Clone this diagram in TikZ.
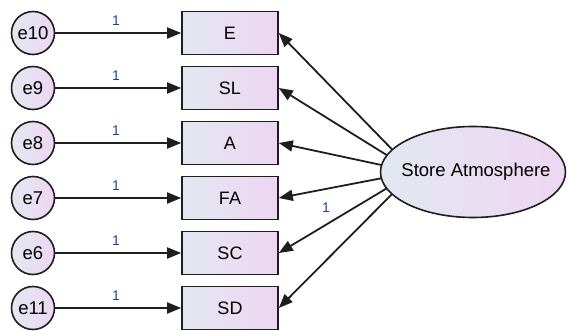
\documentclass[tikz,border=0pt]{standalone}
\usepackage{fontspec}
\setmainfont{Liberation Sans}
\usetikzlibrary{arrows.meta}
\definecolor{shadeL}{RGB}{226,232,240}
\definecolor{shadeR}{RGB}{238,214,243}
\definecolor{edge}{RGB}{30,30,30}
\definecolor{weight}{RGB}{25,70,150}
\tikzset{
  obsbox/.style={draw=edge, line width=1.6pt, minimum width=96pt, minimum height=43pt,
    left color=shadeL, right color=shadeR, inner sep=0pt, font=\fontsize{18}{18}\selectfont},
  errcirc/.style={circle, draw=edge, line width=1.6pt, minimum size=43pt, inner sep=0pt,
    left color=shadeL, right color=shadeR, font=\fontsize{18.5}{18.5}\selectfont},
  latentfill/.style={draw=edge, line width=1.6pt, left color=shadeL, right color=shadeR},
  path/.style={draw=edge, line width=1.8pt, -{Triangle[length=14pt,width=11pt]}},
  wlabel/.style={text=weight, font=\fontsize{14}{14}\selectfont, inner sep=0pt}
}
\begin{document}
\begin{tikzpicture}[x=1pt,y=-1pt]
  \useasboundingbox (0,0) rectangle (568,331);
  % point the loading paths radiate from (hidden under the factor)
  \coordinate (hub) at (414,172);
  % indicators and their error terms
  \foreach \name/\err/\y in {E/e10/33, SL/e9/88, A/e8/143, FA/e7/198, SC/e6/253, SD/e11/308} {
    \node[obsbox] (\name) at (230,\y) {\name};
    \node[errcirc] (\err) at (33,\y) {\err};
    \draw[path] (\err) -- (\name);
    \node[wlabel] at (116,\y-12) {1};
    \draw[path] (hub) -- (\name.east);
  }
  % latent factor drawn over the start of the loading paths
  \path[latentfill] (473,172) ellipse [x radius=92.5pt, y radius=45.5pt];
  \node[font=\fontsize{18.5}{18.5}\selectfont] (SA) at (476,172) {Store Atmosphere};
  % fixed loading
  \node[wlabel] at (326,208) {1};
\end{tikzpicture}
\end{document}
